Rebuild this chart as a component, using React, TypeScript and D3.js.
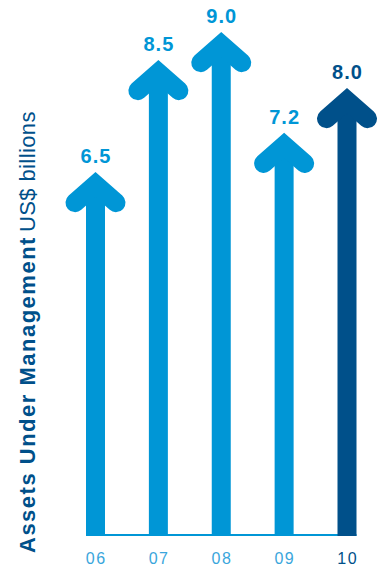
import React from "react";
import * as d3 from "d3";

const years = ["06", "07", "08", "09", "10"];
const values = [6.5, 8.5, 9.0, 7.2, 8.0];
const valueLabels = ["6.5", "8.5", "9.0", "7.2", "8.0"];
const highlightYear = "10";

const W = 379;
const H = 573;
const LIGHT = "#0096d6";
const DARK = "#00508a";
const TICK_LIGHT = "#3aa6dc";
const FONT = "'Liberation Sans', Arial, Helvetica, sans-serif";

export default function App() {
  const x = d3.scalePoint<string>().domain(years).range([95.5, 347]);
  const y = d3.scaleLinear().domain([0, 9]).range([536, 32]);
  const shaftW = 19;
  const armX = 20.5;
  const armY = 18;
  const alpha = Math.atan(armX / armY);
  const apexOff = shaftW / 2 / Math.sin(alpha);

  return (
    <svg
      width={W}
      height={H}
      style={{ position: "absolute", left: 0, top: 0, background: "#fff" }}
      fontFamily={FONT}
    >
      <line
        x1={x(years[0])! - shaftW / 2}
        x2={x(years[years.length - 1])! + shaftW / 2}
        y1={y(0) - 1}
        y2={y(0) - 1}
        stroke={LIGHT}
        strokeWidth={2}
      />
      {years.map((yr, i) => {
        const cx = x(yr)!;
        const tip = y(values[i]);
        const apex = tip + apexOff;
        const color = yr === highlightYear ? DARK : LIGHT;
        return (
          <g key={yr}>
            <line
              x1={cx}
              x2={cx}
              y1={y(0)}
              y2={apex + 4}
              stroke={color}
              strokeWidth={shaftW}
            />
            <path
              d={`M${cx - armX},${apex + armY} L${cx},${apex} L${cx + armX},${apex + armY}`}
              fill="none"
              stroke={color}
              strokeWidth={shaftW}
              strokeLinecap="round"
              strokeLinejoin="miter"
              strokeMiterlimit={10}
            />
            <text
              x={cx + 0.5}
              y={tip - 9}
              textAnchor="middle"
              fontSize={20}
              fontWeight="bold"
              letterSpacing={1}
              fill={color}
            >
              {valueLabels[i]}
            </text>
            <text
              x={cx + 0.75}
              y={564}
              textAnchor="middle"
              fontSize={16}
              letterSpacing={1.5}
              fill={yr === highlightYear ? DARK : TICK_LIGHT}
            >
              {yr}
            </text>
          </g>
        );
      })}
      <text
        transform={`translate(35,553) rotate(-90)`}
        fontSize={22}
        fill={DARK}
      >
        <tspan fontWeight="bold" letterSpacing={1.5}>Assets Under Management</tspan>
        <tspan dx={4} fontWeight="normal" letterSpacing={0.4}>US$ billions</tspan>
      </text>
    </svg>
  );
}
